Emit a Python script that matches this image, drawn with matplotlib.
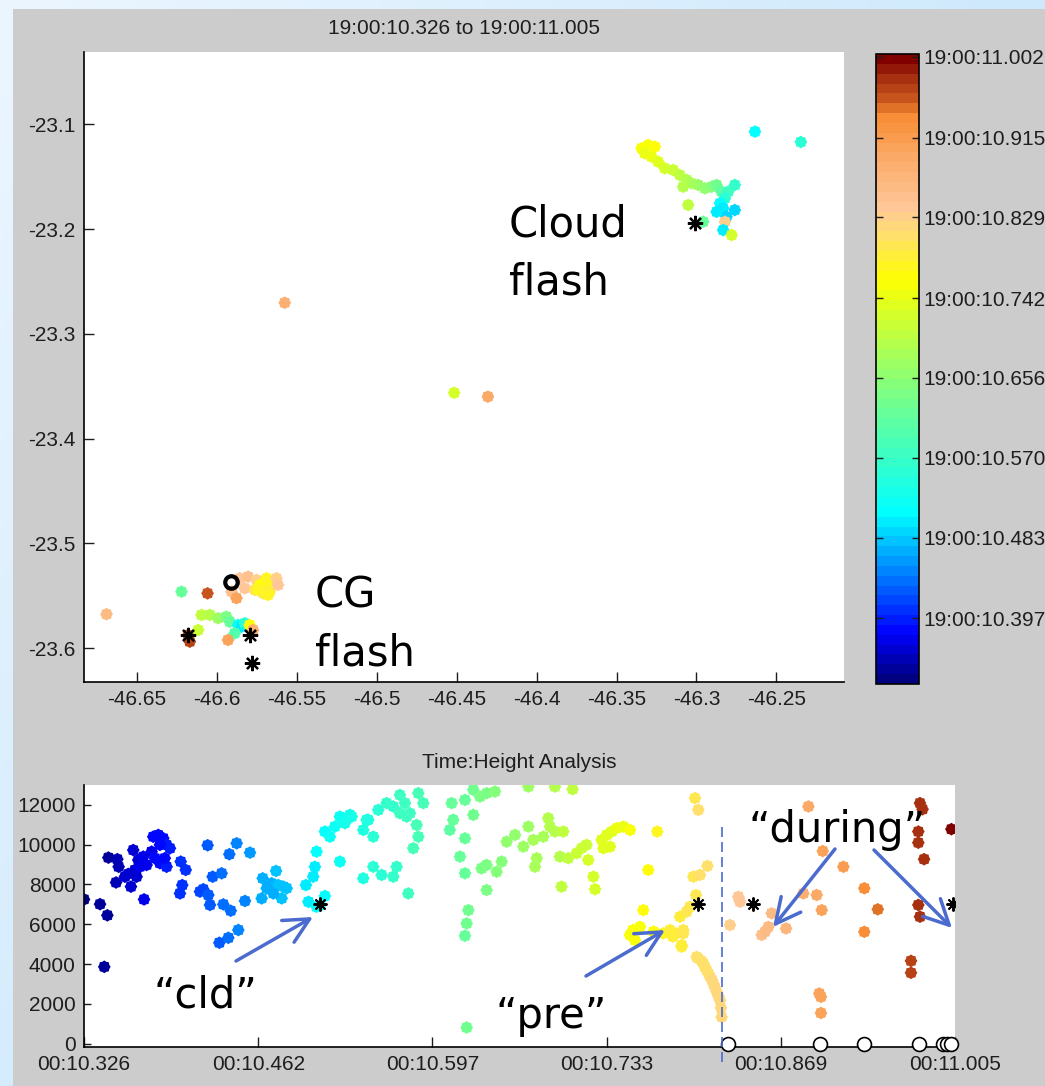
import numpy as np
import matplotlib
matplotlib.use('Agg')
import matplotlib.pyplot as plt
from matplotlib.colors import LinearSegmentedColormap, Normalize
from matplotlib.lines import Line2D
from matplotlib.patches import Rectangle

# ---- sources: lon, lat, seconds after 19:00 ----
map_lon = [-46.3343, -46.3302, -46.3260, -46.3323, -46.3281, -46.3240, -46.3198, -46.3146,
           -46.3104, -46.3062, -46.3031, -46.3083, -46.2989, -46.2947, -46.2905, -46.2874,
           -46.2843, -46.2802, -46.2760, -46.2822, -46.2853, -46.2833, -46.2874, -46.2812,
           -46.2760, -46.2822, -46.2833, -46.2780, -46.2958, -46.3052, -46.2634, -46.2347,
           -46.5576, -46.4516, -46.4305, -46.6691,
           -46.6222, -46.6059, -46.5857, -46.5805, -46.5753, -46.5909, -46.5878, -46.5826,
           -46.5763, -46.5690, -46.5732, -46.5690, -46.5649, -46.5670, -46.5628, -46.5618,
           -46.5711, -46.5743, -46.5680, -46.6097, -46.6045, -46.5993, -46.5941, -46.5920,
           -46.5868, -46.5847, -46.5826, -46.5889, -46.5795, -46.6118, -46.5931, -46.5774,
           -46.6181, -46.6170]
map_lat = [-23.1229, -23.1198, -23.1214, -23.1277, -23.1309, -23.1357, -23.1420, -23.1436,
           -23.1484, -23.1531, -23.1563, -23.1596, -23.1579, -23.1611, -23.1596, -23.1579,
           -23.1643, -23.1643, -23.1579, -23.1706, -23.1754, -23.1801, -23.1835, -23.1882,
           -23.1818, -23.1930, -23.2009, -23.2057, -23.1930, -23.1770, -23.1070, -23.1169,
           -23.2703, -23.3562, -23.3599, -23.5675,
           -23.5460, -23.5476, -23.5332, -23.5317, -23.5348, -23.5460, -23.5522, -23.5428,
           -23.5443, -23.5332, -23.5396, -23.5412, -23.5380, -23.5460, -23.5332, -23.5396,
           -23.5476, -23.5443, -23.5491, -23.5682, -23.5682, -23.5713, -23.5699, -23.5747,
           -23.5778, -23.5794, -23.5761, -23.5857, -23.5778, -23.5826, -23.5921, -23.5826,
           -23.5873, -23.5937]
map_t = [10.760, 10.755, 10.770, 10.750, 10.745, 10.730, 10.720, 10.710,
         10.700, 10.690, 10.680, 10.690, 10.670, 10.660, 10.650, 10.630,
         10.610, 10.580, 10.560, 10.550, 10.510, 10.500, 10.500, 10.490,
         10.490, 10.830, 10.500, 10.720, 10.620, 10.700, 10.510, 10.550,
         10.880, 10.720, 10.890, 10.860,
         10.620, 10.960, 10.840, 10.850, 10.830, 10.850, 10.900, 10.840,
         10.800, 10.780, 10.770, 10.775, 10.780, 10.790, 10.830, 10.840,
         10.800, 10.775, 10.780, 10.700, 10.690, 10.670, 10.640, 10.620,
         10.520, 10.500, 10.550, 10.600, 10.770, 10.710, 10.900, 10.880,
         10.960, 10.970]

# return strokes on the map and the ground-contact ring
star_lon = [-46.3010, -46.6181, -46.5795, -46.5784]
star_lat = [-23.1939, -23.5873, -23.5873, -23.6143]
ring_lon = [-46.5915]
ring_lat = [-23.5365]

# ---- time / height ----
th_t = [10.3260, 10.3385, 10.3442, 10.3418, 10.3450, 10.3520, 10.3530, 10.3510, 10.3626, 10.3728,
        10.3605, 10.3657, 10.3644, 10.3683, 10.3722, 10.3748, 10.3787, 10.3800, 10.3839, 10.3878,
        10.3904, 10.3930, 10.3852, 10.3813, 10.3852, 10.3904, 10.3890, 10.3579, 10.3670, 10.3696,
        10.4014, 10.4053, 10.4026, 10.4008, 10.4164, 10.4190, 10.4229, 10.4242, 10.4224, 10.4263,
        10.4333, 10.4346, 10.4404, 10.4393, 10.4450, 10.4515, 10.4554, 10.4315, 10.4385, 10.4463,
        10.4653, 10.4684, 10.4645, 10.4757, 10.4723, 10.4774, 10.4814, 10.4840, 10.4801, 10.4736,
        10.4990, 10.5047, 10.5060, 10.5073, 10.5009, 10.5073, 10.5138, 10.5138, 10.5177, 10.5216,
        10.5255, 10.5294, 10.5333, 10.5255, 10.5437, 10.5437, 10.5463, 10.5100,
        10.5347, 10.5476, 10.5515, 10.5554, 10.5619, 10.5671, 10.5723, 10.5762, 10.5801, 10.5853,
        10.5866, 10.5827, 10.5866, 10.5905, 10.5723, 10.5775, 10.5515, 10.5580, 10.5671, 10.5697,
        10.5788,
        10.6126, 10.6230, 10.6295, 10.6347, 10.6399, 10.6464, 10.6724, 10.6931, 10.7069, 10.6112,
        10.6138, 10.6295, 10.6230, 10.6191, 10.6230, 10.6359, 10.6399, 10.6477, 10.6516, 10.6399,
        10.6256, 10.6243, 10.6230, 10.6243,
        10.6555, 10.6620, 10.6685, 10.6724, 10.6763, 10.6789, 10.6776, 10.6841, 10.6879, 10.6893,
        10.6932, 10.6996, 10.6970, 10.7035, 10.7100, 10.7139, 10.7178, 10.7191, 10.6983, 10.7231,
        10.7244, 10.7296, 10.7335, 10.7374, 10.7413, 10.7465, 10.7517, 10.7309, 10.7361, 10.7729,
        10.7659, 10.7620, 10.7516, 10.7555, 10.7594, 10.7776, 10.7828, 10.7880, 10.7919, 10.7932,
        10.7906, 10.7984, 10.8010, 10.8023, 10.8036, 10.7540, 10.7700, 10.7850,
        10.8049, 10.8120, 10.8062, 10.8031, 10.7958, 10.7932, 10.7919,
        10.8049, 10.8088, 10.8114, 10.8140, 10.8166, 10.8192, 10.8218, 10.8231,
        10.8075, 10.8100, 10.8130, 10.8155, 10.8180, 10.8205, 10.8225,
        10.8296, 10.8361, 10.8374, 10.8543, 10.8569, 10.8595, 10.8621, 10.8733, 10.8868, 10.8907,
        10.8972, 10.9011, 10.9019, 10.9180, 10.8992, 10.9005, 10.9005, 10.9343, 10.9448, 10.9343,
        10.9777, 10.9797, 10.9764, 10.9764, 10.9809, 10.9764, 10.9777, 10.9707, 10.9707, 11.0022]
th_h = [7250, 7010, 6450, 3860, 9350, 9270, 8890, 8100, 7890, 7250,
        8530, 8730, 9730, 9230, 9400, 8980, 9650, 10400, 10490, 10320,
        9990, 9820, 9990, 9320, 9070, 8890, 9320, 8390, 8390, 8890,
        9150, 8730, 7970, 7550, 7640, 7760, 7470, 6970, 9970, 8390,
        8560, 7000, 6680, 9520, 10070, 7170, 9600, 5070, 5320, 5710,
        8310, 7810, 7300, 8680, 8060, 7970, 7890, 7810, 7300, 7550,
        7970, 8390, 8890, 9650, 7130, 6880, 7420, 10660, 10400, 10910,
        11410, 11080, 11500, 9150, 8310, 10740, 11250, 6950,
        11410, 11250, 10400, 11750, 12090, 11920, 12500, 12090, 11580, 10990,
        10400, 9820, 12590, 12090, 11580, 11410, 8890, 8480, 8390, 8890,
        7550,
        12090, 12250, 12760, 12420, 12590, 12670, 12920, 12920, 12790, 10740,
        11250, 11500, 10320, 9400, 8560, 8810, 8980, 8640, 9150, 7720,
        6710, 6040, 5420, 810,
        10150, 10490, 9900, 10910, 10240, 9320, 8890, 10400, 11330, 10910,
        10660, 10660, 9400, 9320, 9570, 9820, 9990, 9230, 7890, 8390,
        7760, 10240, 10490, 10660, 10830, 10910, 10740, 9820, 9900, 10660,
        8730, 6710, 5460, 5200, 5870, 5540, 5710, 5540, 4950, 5710,
        6380, 6880, 8390, 12340, 4360, 5710, 5630, 5380,
        11750, 8930, 8480, 7470, 6630, 5540, 4870,
        4280, 4030, 3690, 3360, 3020, 2600, 2180, 1340,
        4150, 3850, 3500, 3200, 2800, 2400, 1800,
        5960, 7380, 7130, 5460, 5620, 5870, 6550, 5790, 7550, 11920,
        7470, 6710, 9680, 8890, 2520, 2350, 1540, 7810, 6750, 5620,
        12090, 11780, 10660, 10100, 9270, 6970, 6380, 4160, 3560, 10780]

rs_t = [10.5100, 10.8046, 10.8473, 11.0032]
rs_h = [7000, 7000, 7000, 7000]
gnd_t = [10.8283, 10.8998, 10.9343, 10.9771, 10.9959, 10.9985, 11.0016]
gnd_h = [0, 0, 0, 0, 0, 0, 0]

t0, t1 = 10.326, 11.005
cb_ticks = [10.397, 10.4835, 10.570, 10.656, 10.742, 10.829, 10.915, 11.002]
cb_labels = ['19:00:10.397', '19:00:10.483', '19:00:10.570', '19:00:10.656',
             '19:00:10.742', '19:00:10.829', '19:00:10.915', '19:00:11.002']
lon_ticks = [-46.65, -46.6, -46.55, -46.5, -46.45, -46.4, -46.35, -46.3, -46.25]
lat_ticks = [-23.6, -23.5, -23.4, -23.3, -23.2, -23.1]
th_xticks = [10.326, 10.4618, 10.5976, 10.7334, 10.8692, 11.005]
th_xlabels = ['00:10.326', '00:10.462', '00:10.597', '00:10.733', '00:10.869', '00:11.005']
th_yticks = [0, 2000, 4000, 6000, 8000, 10000, 12000]

# jet-like lower half, warm peach/orange/red upper half
cmap = LinearSegmentedColormap.from_list('lma', [
    (0.000, (0.00, 0.00, 0.50)),
    (0.075, (0.00, 0.00, 1.00)),
    (0.268, (0.00, 1.00, 1.00)),
    (0.468, (0.50, 1.00, 0.50)),
    (0.645, (1.00, 1.00, 0.00)),
    (0.720, (1.00, 0.87, 0.45)),
    (0.760, (1.00, 0.78, 0.60)),
    (0.850, (0.98, 0.65, 0.38)),
    (0.910, (0.97, 0.55, 0.20)),
    (0.930, (0.80, 0.36, 0.12)),
    (0.970, (0.65, 0.18, 0.06)),
    (1.000, (0.50, 0.00, 0.00)),
], N=64)
norm = Normalize(t0, t1)

W, H = 1045, 1086
plt.rcParams['font.family'] = ['Liberation Sans', 'DejaVu Sans']
plt.rcParams['font.size'] = 15
TXT = '#1e1e1e'

fig = plt.figure(figsize=(W / 100, H / 100), dpi=100)


def box(x0, y0, x1, y1):
    # pixel box (top-left origin) -> figure fraction rect
    return [x0 / W, 1 - y1 / H, (x1 - x0) / W, (y1 - y0) / H]


# slide background: pale blue gradient strip behind a grey canvas
bg = fig.add_axes([0, 0, 1, 1], zorder=-5)
bg.axis('off')
gx, gy = np.meshgrid(np.linspace(0, 1, 200), np.linspace(0, 1, 200))
k = np.clip(0.6 * gx + 0.45 * gy, 0, 1)
grad = np.dstack([236 - 50 * k, 246 - 22 * k, 255 - 5 * k]) / 255
bg.imshow(grad, extent=[0, 1, 0, 1], aspect='auto', origin='upper')
bg.add_patch(Rectangle((13 / W, 0), 1, 1 - 9 / H, color='#cccccc', lw=0))
bg.set_xlim(0, 1)
bg.set_ylim(0, 1)

# ragged round blob used for the source markers
ang = np.arange(16) * np.pi / 8
rad = np.where(np.arange(16) % 2 == 0, 1.0, 0.85)
blob = np.column_stack([rad * np.cos(ang), rad * np.sin(ang)])


def style(ax):
    for s in ['top', 'right']:
        ax.spines[s].set_visible(False)
    for s in ['left', 'bottom']:
        ax.spines[s].set_linewidth(1.2)
    ax.tick_params(direction='in', length=7, width=1, colors=TXT, pad=6)


# ---- plan view ----
ax = fig.add_axes(box(84, 52, 844, 682))
style(ax)
sc = ax.scatter(map_lon, map_lat, c=map_t, cmap=cmap, norm=norm, s=85, marker=blob, linewidths=0)
ax.plot(star_lon, star_lat, ls='none', marker=(8, 2, 0), ms=11, mew=1.6, color='k')
ax.plot(ring_lon, ring_lat, ls='none', marker='o', ms=9, mew=3, mfc='none', mec='k')
ax.set_xlim(-46.6832, -46.2077)
ax.set_ylim(-23.6322, -23.0310)
ax.set_xticks(lon_ticks)
ax.set_xticklabels([f'{v:g}' for v in lon_ticks])
ax.set_yticks(lat_ticks)
ax.set_yticklabels([f'{v:g}' for v in lat_ticks])

cax = fig.add_axes(box(876, 54, 919, 684))
cb = fig.colorbar(sc, cax=cax, ticks=cb_ticks)
cb.ax.set_yticklabels(cb_labels)
cb.outline.set_linewidth(1.2)
cb.ax.tick_params(direction='in', length=5, width=1, left=True, right=True, colors=TXT, pad=3)

fig.text(464 / W, 1 - 28 / H, '19:00:10.326 to 19:00:11.005', ha='center', va='center', color=TXT)

# ---- time vs height ----
ax2 = fig.add_axes(box(84, 785, 955, 1047))
style(ax2)
ax2.scatter(th_t, th_h, c=th_t, cmap=cmap, norm=norm, s=85, marker=blob, linewidths=0)
ax2.plot(rs_t, rs_h, ls='none', marker=(8, 2, 0), ms=10, mew=1.4, color='k', zorder=3)
ax2.plot(gnd_t, gnd_h, ls='none', marker='o', ms=10, mew=1.2, mfc='white', mec='k',
         clip_on=False, zorder=4)
ax2.set_xlim(t0, t1)
ax2.set_ylim(-170, 13000)
ax2.set_xticks(th_xticks)
ax2.set_xticklabels(th_xlabels)
ax2.set_yticks(th_yticks)
ax2.set_yticklabels([str(v) for v in th_yticks])
ax2.tick_params(axis='y', length=5)

fig.text(519 / W, 1 - 762 / H, 'Time:Height Analysis', ha='center', va='center', color=TXT)

# ---- callouts ----
ann = dict(fontsize=30, family=['DejaVu Sans'], color='k', va='baseline')
fig.text(509 / W, 1 - 237 / H, 'Cloud', **ann)
fig.text(509 / W, 1 - 295 / H, 'flash', **ann)
fig.text(315 / W, 1 - 607 / H, 'CG', **ann)
fig.text(315 / W, 1 - 666 / H, 'flash', **ann)
fig.text(205 / W, 1 - 1008 / H, '\u201ccld\u201d', ha='center', **ann)
fig.text(551 / W, 1 - 1028 / H, '\u201cpre\u201d', ha='center', **ann)
fig.text(837 / W, 1 - 842 / H, '\u201cduring\u201d', ha='center', **ann)

ARROW = '#4b6bcf'
arrows = [((236, 961), (313, 917)),
          ((586, 976), (665, 930)),
          ((835, 849), (773, 927)),
          ((874, 850), (952, 928))]
for (xa, ya), (xb, yb) in arrows:
    ax2.annotate('', xy=(xb, H - yb), xycoords='figure pixels',
                 xytext=(xa, H - ya), textcoords='figure pixels',
                 arrowprops=dict(arrowstyle='->,head_length=1.0,head_width=0.5',
                                 mutation_scale=18, lw=2.5, color=ARROW,
                                 shrinkA=0, shrinkB=0))

fig.add_artist(Line2D([722 / W, 722 / W], [1 - 827 / H, 1 - 1062 / H], transform=fig.transFigure,
                      ls=(0, (6, 3)), lw=1.2, color=ARROW))

fig.savefig('out.png', dpi=100, facecolor=fig.get_facecolor())
